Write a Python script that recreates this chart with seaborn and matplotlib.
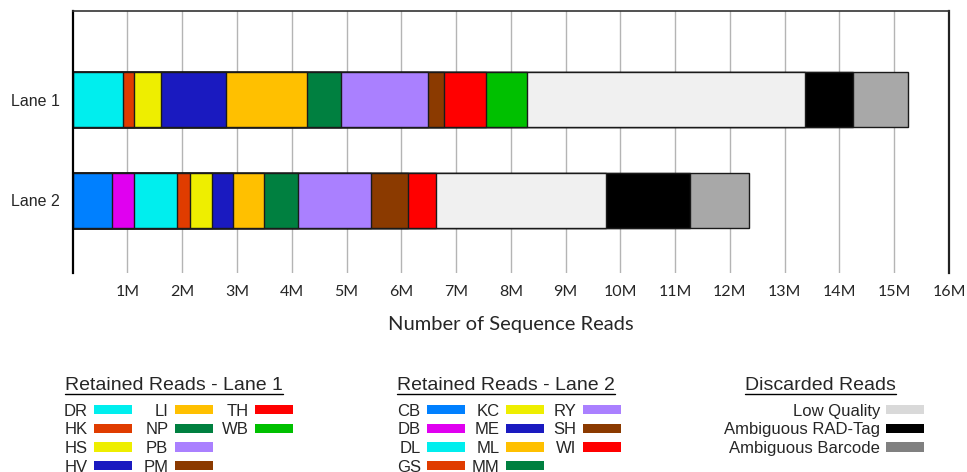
import matplotlib
matplotlib.use('Agg')
import matplotlib.pyplot as plt
from matplotlib.patches import Rectangle
from matplotlib.lines import Line2D
import seaborn as sns
import pandas as pd

# reads per sample (counts)
lanes = ['Lane 1', 'Lane 2']

lane1_samples = ['DR', 'HK', 'HS', 'HV', 'LI', 'NP', 'PB', 'PM', 'TH', 'WB']
lane1_reads = [925000, 196000, 493000, 1189000, 1478000, 618000, 1584000, 292000, 775000, 750000]
lane1_colors = ['#00EEEE', '#E03C00', '#EEEE00', '#1A1AC0', '#FFC000', '#008040',
                '#AA80FF', '#8B3A00', '#FF0000', '#00C000']

lane2_samples = ['CB', 'DB', 'DL', 'GS', 'KC', 'ME', 'ML', 'MM', 'RY', 'SH', 'WI']
lane2_reads = [713000, 413000, 786000, 238000, 397000, 378000, 559000, 629000, 1328000, 683000, 512000]
lane2_colors = ['#0080FF', '#E000F0', '#00EEEE', '#E03C00', '#EEEE00', '#1A1AC0',
                '#FFC000', '#008040', '#AA80FF', '#8B3A00', '#FF0000']

discard_types = ['Low Quality', 'Ambiguous RAD-Tag', 'Ambiguous Barcode']
lane1_discarded = [5064000, 888000, 1006000]
lane2_discarded = [3095000, 1549000, 1066000]
discard_bar_colors = ['#F0F0F0', '#000000', '#A8A8A8']
discard_legend_colors = ['#D9D9D9', '#000000', '#808080']

tick_millions = list(range(1, 17))

# cumulative ends, drawn longest first so shorter bars sit on top
rows = []
for lane, names, reads, cols, disc in [
        ('Lane 1', lane1_samples, lane1_reads, lane1_colors, lane1_discarded),
        ('Lane 2', lane2_samples, lane2_reads, lane2_colors, lane2_discarded)]:
    total = 0
    for n, r, c in zip(names + discard_types, reads + disc, cols + discard_bar_colors):
        total += r
        rows.append({'lane': lane, 'segment': n, 'end': total, 'color': c})
df = pd.DataFrame(rows).sort_values('end', ascending=False)

sns.set_style('white')
W, H = 967, 472
fig = plt.figure(figsize=(W / 100, H / 100), dpi=100)
ax = fig.add_axes([72.7 / W, 1 - 273 / H, (949 - 72.7) / W, (273 - 11) / H])

for idx, r in df.iterrows():
    sns.barplot(data=df.loc[[idx]], x='end', y='lane', order=lanes, orient='h',
                color=r['color'], saturation=1, width=0.54, errorbar=None,
                edgecolor='#1a1a1a', linewidth=1, ax=ax, zorder=2)

ax.set_xlim(0, 16e6)
ax.set_ylim(1.72, -0.88)
ax.set_xticks([t * 1e6 for t in tick_millions])
ax.set_xticklabels([f'{t}M' for t in tick_millions], family=['Lato', 'DejaVu Sans'], fontsize=11.5)
ax.set_yticks([0, 1])
ax.set_yticklabels(lanes, family=['Liberation Sans', 'DejaVu Sans'], fontsize=11.5)
ax.tick_params(axis='x', length=0, pad=9)
ax.tick_params(axis='y', length=0, pad=9)
ax.xaxis.grid(True, color='#B4B4B4', linewidth=1)
ax.yaxis.grid(False)
ax.set_axisbelow(True)
ax.set_ylabel('')
ax.set_xlabel('Number of Sequence Reads', family=['Lato', 'DejaVu Sans'], fontsize=14.5, labelpad=12)

ax.spines['bottom'].set_visible(False)
ax.spines['left'].set_color('#000000')
ax.spines['left'].set_linewidth(1.6)
ax.spines['right'].set_color('#222222')
ax.spines['right'].set_linewidth(1.6)
ax.spines['top'].set_color('#333333')
ax.spines['top'].set_linewidth(1.2)


def fx(px):
    return px / W


def fy(py):
    return 1 - py / H


legend_font = ['Liberation Sans', 'DejaVu Sans']
row_y = [409.7, 428.3, 446.9, 465.5]
patch_w, patch_h = 38, 9.5


def legend_entry(label, color, label_right, patch_left, y):
    fig.text(fx(label_right), fy(y), label, ha='right', va='center_baseline',
             family=legend_font, fontsize=12)
    fig.add_artist(Rectangle((fx(patch_left), fy(y + patch_h / 2)), patch_w / W, patch_h / H,
                             transform=fig.transFigure, facecolor=color, edgecolor='none'))


titles = []
titles.append(fig.text(fx(65), fy(386), 'Retained Reads - Lane 1', ha='left', va='center',
                       family=legend_font, fontsize=14))
titles.append(fig.text(fx(397), fy(386), 'Retained Reads - Lane 2', ha='left', va='center',
                       family=legend_font, fontsize=14))
titles.append(fig.text(fx(820.5), fy(386), 'Discarded Reads', ha='center', va='center',
                       family=legend_font, fontsize=14))

lane1_cols = [(87.7, 94), (168.3, 175), (249, 255)]
for i, (name, col) in enumerate(zip(lane1_samples, lane1_colors)):
    lr, pl = lane1_cols[i // 4]
    legend_entry(name, col, lr, pl, row_y[i % 4])

lane2_cols = [(420.7, 426.7), (499.3, 506), (576.7, 582.7)]
for i, (name, col) in enumerate(zip(lane2_samples, lane2_colors)):
    lr, pl = lane2_cols[i // 4]
    legend_entry(name, col, lr, pl, row_y[i % 4])

for i, (name, col) in enumerate(zip(discard_types, discard_legend_colors)):
    legend_entry(name, col, 880, 886, row_y[i])

# underline the legend titles
fig.canvas.draw()
renderer = fig.canvas.get_renderer()
for t in titles:
    bb = t.get_window_extent(renderer)
    y = bb.y0 + 1
    fig.add_artist(Line2D([bb.x0 / W, bb.x1 / W], [y / H, y / H], transform=fig.transFigure,
                          color='black', linewidth=1))

fig.savefig('out.png', dpi=100)
